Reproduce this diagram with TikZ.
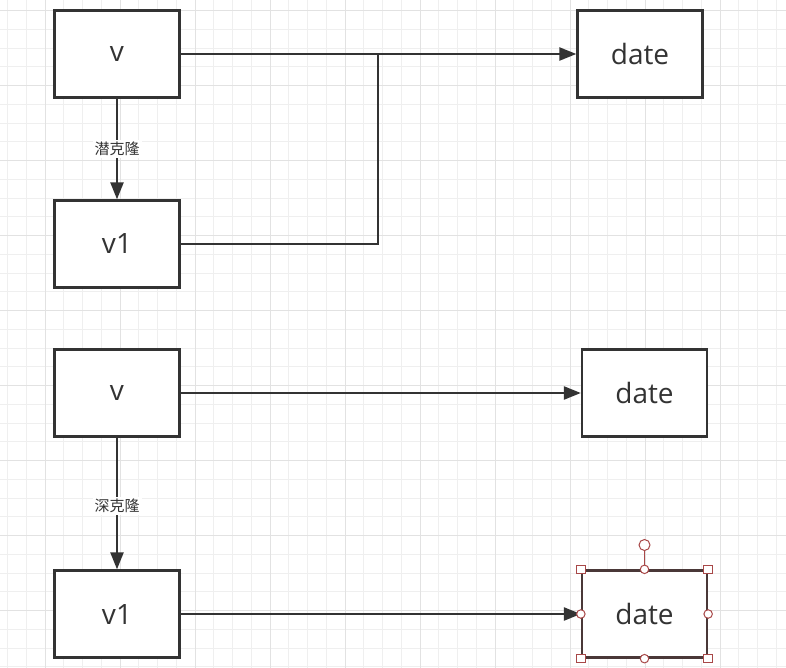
\documentclass[tikz,border=0pt]{standalone}
\usepackage{fontspec}
\setmainfont{Open Sans}
\newfontfamily\cjk{Noto Sans CJK SC}
\usetikzlibrary{arrows.meta}
\definecolor{ink}{HTML}{333333}
\definecolor{gridminor}{HTML}{EFEFEF}
\definecolor{gridmajor}{HTML}{E2E2E2}
\definecolor{selbox}{HTML}{4A3838}
\definecolor{handle}{HTML}{A84848}
\tikzset{
  box/.style={draw=ink, line width=2.3pt, fill=white, minimum width=125pt, minimum height=87pt, inner sep=0pt, text=ink, font=\fontsize{28}{30}\selectfont},
  conn/.style={draw=ink, line width=2.3pt},
  arr/.style={conn, -{Triangle[length=17pt, width=13pt]}},
  lbl/.style={fill=white, text=ink, font=\cjk\fontsize{15}{16}\selectfont, inner sep=2pt},
  sq/.style={draw=handle, fill=white, line width=1pt, minimum size=8.5pt, inner sep=0pt},
  circ/.style={draw=handle, fill=white, line width=1pt, circle, minimum size=8.5pt, inner sep=0pt},
}
\begin{document}
\begin{tikzpicture}[x=1pt, y=-1pt]
\useasboundingbox (0,0) rectangle (786,668);
\fill[white] (0,0) rectangle (786,668);
% grid
\foreach \i in {0,...,41} {
  \draw[gridminor, line width=1pt] ({7.5+18.75*\i},0) -- ({7.5+18.75*\i},668);
}
\foreach \i in {0,...,35} {
  \draw[gridminor, line width=1pt] (0,{10.7+18.75*\i}) -- (786,{10.7+18.75*\i});
}
\foreach \i in {0,...,10} {
  \draw[gridmajor, line width=1pt] ({45+75*\i},0) -- ({45+75*\i},668);
}
\foreach \i in {0,...,8} {
  \draw[gridmajor, line width=1pt] (0,{10.7+75*\i}) -- (786,{10.7+75*\i});
}
% top group
\node[box] (va) at (117,54) {v};
\node[box] (datea) at (640,54) {date};
\node[box] (v1a) at (117,244) {v1};
\coordinate (ja) at (378.3,54);
\draw[arr] (va) -- node[lbl, pos=0.5] (la) {潜克隆} (v1a);
\draw[arr] (va.east) -- (datea.west);
\draw[conn] (v1a.east) -| (ja);
% bottom group
\node[box] (vb) at (117,393) {v};
\node[box] (dateb) at (644.5,393) {date};
\node[box] (v1b) at (117,614) {v1};
\node[box, draw=selbox] (datec) at (644.5,614) {date};
\draw[arr] (vb) -- node[lbl, pos=0.52] (lb) {深克隆} (v1b);
\draw[arr] (vb.east) -- (dateb.west);
\draw[arr] (v1b.east) -- (datec.west);
% selection handles
\node[circ, minimum size=11pt] (rot) at (644.5,545) {};
\draw[handle, line width=1pt] (rot.south) -- (datec.north);
\node[sq] (h1) at (datec.north west) {};
\node[sq] (h2) at (datec.north east) {};
\node[sq] (h3) at (datec.south west) {};
\node[sq] (h4) at (datec.south east) {};
\node[circ] (h5) at (datec.north) {};
\node[circ] (h6) at (datec.south) {};
\node[circ] (h7) at (datec.west) {};
\node[circ] (h8) at (datec.east) {};
\end{tikzpicture}
\end{document}
